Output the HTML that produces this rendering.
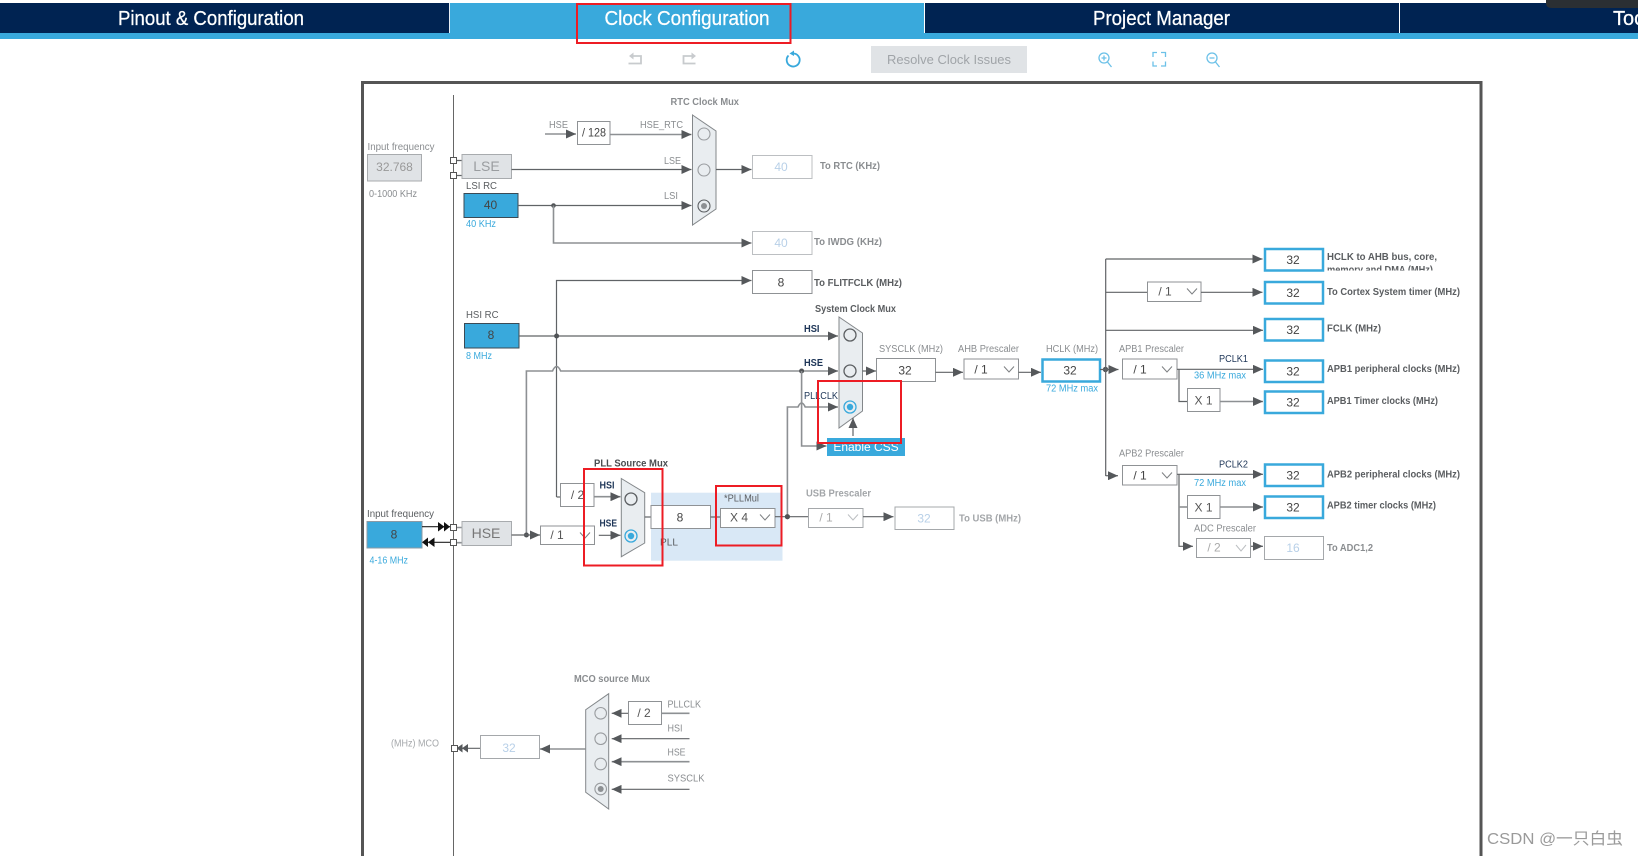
<!DOCTYPE html>
<html><head><meta charset="utf-8"><title>Clock Configuration</title>
<style>
html,body{margin:0;padding:0;background:#fff;width:1638px;height:856px;overflow:hidden}
svg{display:block}
text{font-family:"Liberation Sans","Noto Sans CJK SC",sans-serif;font-size:10px;fill:#8a8d90}
.b{font-weight:bold}
.d{fill:#5a5d60}
.n{fill:#1d3557}
.bl{fill:#39a9dc}
.v{font-size:12px;fill:#444;text-anchor:middle;transform:translateY(-1px)}
.lt{font-size:12px;fill:#b8d0e8;text-anchor:middle;transform:translateY(-1px)}
text[style*="font-size:12px"],text[style*="font-size:14px"]{transform:translateY(-1px)}
.tab{font-size:20px;fill:#fff;stroke:#fff;stroke-width:.25}
.box{fill:#fff;stroke:#8f9295;stroke-width:1}
.lb{fill:#fff;stroke:#bcbfc2;stroke-width:1}
.bb{fill:#fff;stroke:#39a9dc;stroke-width:2.5}
.gb{fill:#e0e3e6;stroke:#a8abae;stroke-width:1}
.blue{fill:#39a9dc;stroke:#3b4a55;stroke-width:1}
.l{fill:none;stroke:#606366;stroke-width:1.2;marker-end:url(#a)}
.p{fill:none;stroke:#606366;stroke-width:1.2}
.g{fill:none;stroke:#8d9093;stroke-width:1.6;marker-end:url(#a)}
.gp{fill:none;stroke:#8d9093;stroke-width:1.6}
.mux{fill:#e9edf0;stroke:#83878a;stroke-width:1}
.r{fill:none;stroke:#5c5f62;stroke-width:1.1}
.rg{fill:none;stroke:#9a9da0;stroke-width:1.1}
.red{fill:none;stroke:#ed1c24;stroke-width:2}
.ch{fill:none;stroke:#7c7f82;stroke-width:1}
.chl{fill:none;stroke:#bcbfc2;stroke-width:1}
.ic{fill:none;stroke:#6cc1e8;stroke-width:1.3}
.icg{fill:none;stroke:#c8cbce;stroke-width:1.8}
.sq{fill:#fff;stroke:#555;stroke-width:1}
</style></head><body>
<svg width="1638" height="856" viewBox="0 0 1638 856" xmlns="http://www.w3.org/2000/svg">
<defs>
<marker id="a" markerUnits="userSpaceOnUse" markerWidth="10" markerHeight="9" refX="10" refY="4.5" orient="auto"><path d="M0 0L10 4.5L0 9z" fill="#55585b"/></marker>
<clipPath id="c1"><rect x="1326" y="240" width="130" height="30.5"/></clipPath>
</defs>

<!-- header -->
<rect x="0" y="3" width="1638" height="30" fill="#002352"/>
<rect x="0" y="33" width="1638" height="6" fill="#39a9dc"/>
<rect x="450" y="3" width="474" height="30" fill="#39a9dc"/>
<rect x="449" y="3" width="1" height="30" fill="#e8eef4"/>
<rect x="924" y="3" width="1" height="30" fill="#fff"/>
<rect x="1399" y="3" width="1" height="30" fill="#fff"/>
<path d="M1546 0H1638V8H1552Q1546 8 1546 3z" fill="#2b2f33"/>
<text class="tab" x="118" y="25" textLength="186" lengthAdjust="spacingAndGlyphs">Pinout &amp; Configuration</text>
<text class="tab" x="604.5" y="25" textLength="165" lengthAdjust="spacingAndGlyphs">Clock Configuration</text>
<text class="tab" x="1093" y="25" textLength="137" lengthAdjust="spacingAndGlyphs">Project Manager</text>
<text class="tab" x="1613" y="25">Tools</text>
<rect class="red" x="577" y="4" width="213.500" height="39"/>

<!-- toolbar -->
<path class="icg" d="M632 56H641V63.500H628.500"/>
<path d="M633.500 52.500L629 56L633.500 59.500z" fill="#c8cbce"/>
<path class="icg" d="M693 56H683.500V63.500H695.500"/>
<path d="M691.500 52.500L696 56L691.500 59.500z" fill="#c8cbce"/>
<path d="M788.500 55.500A6.500 6.500 0 1 0 793 53.500" fill="none" stroke="#39a9dc" stroke-width="1.800"/>
<path d="M794 50.500l-4.500 3 4.500 2.500z" fill="#39a9dc"/>
<rect x="871" y="46" width="156" height="27" fill="#e0e3e6"/>
<text x="887" y="64" style="font-size:13px;fill:#a0a4a8" textLength="124" lengthAdjust="spacingAndGlyphs">Resolve Clock Issues</text>
<circle class="ic" cx="1104" cy="58" r="5"/><path class="ic" d="M1107.500 62l4 5M1101.500 58h5M1104 55.500v5"/>
<path class="ic" d="M1153 57v-4.500h4M1161 52.500h4.500V57M1165.500 61.500V66h-4.500M1157 66h-4v-4.500"/>
<circle class="ic" cx="1212" cy="58" r="5"/><path class="ic" d="M1215.500 62l4 5M1209.500 58h5"/>

<!-- frame -->
<path d="M362.500 857V82.500H1481V857" fill="none" stroke="#555" stroke-width="3"/>
<path d="M453.500 95V856" stroke="#666" stroke-width="1" fill="none"/>

<!-- RTC -->
<text class="b" x="670.500" y="105" textLength="68.500" lengthAdjust="spacingAndGlyphs">RTC Clock Mux</text>
<text x="549" y="128" textLength="19" lengthAdjust="spacingAndGlyphs">HSE</text>
<path class="g" d="M545 134H576"/>
<rect class="box" x="577.500" y="121.500" width="32.500" height="23"/>
<text class="v" x="594" y="137.500" textLength="24" lengthAdjust="spacingAndGlyphs">/ 128</text>
<text x="640" y="128" textLength="43" lengthAdjust="spacingAndGlyphs">HSE_RTC</text>
<path class="g" d="M610 134.500H691.500"/>
<polygon class="mux" points="692.500,115 716,131 716,209 692.500,225"/>
<circle class="rg" cx="704" cy="134" r="6"/><circle class="rg" cx="704" cy="170" r="6"/><circle class="r" cx="704" cy="206" r="6"/><circle cx="704" cy="206" r="3" fill="#8d9093"/>
<text x="367.500" y="150" textLength="67" lengthAdjust="spacingAndGlyphs">Input frequency</text>
<rect class="gb" x="367.500" y="154.500" width="54" height="26.500"/>
<text x="394.500" y="172" style="font-size:12px;fill:#999;text-anchor:middle">32.768</text>
<text x="369" y="197" textLength="48" lengthAdjust="spacingAndGlyphs">0-1000 KHz</text>
<path class="p" d="M456 160.500H462M456 175.500H462"/>
<rect class="sq" x="450.500" y="157.500" width="6" height="6"/><rect class="sq" x="450.500" y="172.500" width="6" height="6"/>
<rect class="gb" x="462" y="154.500" width="49.500" height="24"/>
<text x="486.500" y="172" style="font-size:14px;fill:#9a9da0;text-anchor:middle">LSE</text>
<path class="l" d="M511.500 169.500H691.500"/>
<text x="664" y="164" textLength="17" lengthAdjust="spacingAndGlyphs">LSE</text>
<path class="l" d="M716 169.500H751.500"/>
<rect class="lb" x="752.500" y="155.500" width="59.500" height="23"/>
<text class="lt" x="781" y="172">40</text>
<text class="b" x="820" y="169" textLength="60" lengthAdjust="spacingAndGlyphs">To RTC (KHz)</text>
<text class="d" x="466" y="189" textLength="31" lengthAdjust="spacingAndGlyphs">LSI RC</text>
<rect class="blue" x="464" y="193.500" width="54" height="24"/>
<text class="v" x="490.500" y="210">40</text>
<text class="bl" x="466" y="227" textLength="30" lengthAdjust="spacingAndGlyphs">40 KHz</text>
<path class="l" d="M518 205.500H691.500"/>
<circle cx="553.500" cy="205.500" r="2.300" fill="#505356"/>
<text x="664" y="199" textLength="14" lengthAdjust="spacingAndGlyphs">LSI</text>
<path class="g" d="M553.500 205.500V243H751.500"/>
<rect class="lb" x="752.500" y="231.500" width="59.500" height="23"/>
<text class="lt" x="781" y="248">40</text>
<text class="b" x="814" y="245" textLength="68" lengthAdjust="spacingAndGlyphs">To IWDG (KHz)</text>

<!-- FLITF + HSI -->
<path class="l" d="M556.500 497V280.500H751.500"/>
<rect class="box" x="752.500" y="270.500" width="59.500" height="23"/>
<text class="v" x="781" y="287.500">8</text>
<text class="b d" x="814" y="286" textLength="88" lengthAdjust="spacingAndGlyphs">To FLITFCLK (MHz)</text>
<text class="d" x="466" y="318" textLength="32.500" lengthAdjust="spacingAndGlyphs">HSI RC</text>
<rect class="blue" x="464.500" y="323.500" width="54.500" height="24.500"/>
<text class="v" x="491" y="340">8</text>
<text class="bl" x="466" y="359" textLength="26" lengthAdjust="spacingAndGlyphs">8 MHz</text>
<path class="l" d="M519 336H838"/>
<circle cx="556.600" cy="336" r="2.500" fill="#505356"/>
<text class="b d" x="815" y="312" textLength="81" lengthAdjust="spacingAndGlyphs">System Clock Mux</text>
<text class="b n" x="804" y="332" textLength="15.500" lengthAdjust="spacingAndGlyphs">HSI</text>
<path class="g" d="M526.400 535V371H552.500Q556.600 362 560.700 371H838"/>
<circle cx="526.400" cy="535" r="2.500" fill="#505356"/>
<circle cx="801.600" cy="371" r="2.500" fill="#505356"/>
<text class="b n" x="804" y="366" textLength="19" lengthAdjust="spacingAndGlyphs">HSE</text>
<path class="g" d="M787.400 517V407H798Q801.600 399 805.200 407H838"/>
<circle cx="787.400" cy="516.700" r="2.500" fill="#505356"/>
<path class="g" d="M801.600 371V446H826.500"/>
<text class="n" x="804" y="399" textLength="34" lengthAdjust="spacingAndGlyphs">PLLCLK</text>
<polygon class="mux" points="839,317 862.500,333 862.500,411 839,428"/>
<circle class="r" cx="850" cy="335" r="6" style="stroke-width:1.300"/><circle class="r" cx="850" cy="371" r="6" style="stroke-width:1.300"/>
<circle cx="850" cy="407" r="6" fill="none" stroke="#39a9dc" stroke-width="1.300"/><circle cx="850" cy="407" r="3.200" fill="#39a9dc"/>
<rect x="827" y="438" width="78" height="18" fill="#39a9dc"/>
<text x="866" y="452" style="font-size:12px;fill:#fff;text-anchor:middle">Enable CSS</text>
<path class="l" d="M853 436V418"/>
<path class="l" d="M862.500 371H876"/>
<rect class="box" x="876.500" y="358.500" width="59" height="23"/>
<text class="v" x="905" y="375.500">32</text>
<text x="879" y="352" textLength="64" lengthAdjust="spacingAndGlyphs">SYSCLK (MHz)</text>
<path class="l" d="M935.500 372.300H963"/>
<rect class="box" x="964" y="359" width="54.500" height="20"/>
<text class="v" x="981" y="374.500">/ 1</text>
<polyline class="ch" points="1004,366.500 1009,372 1014,366.500"/>
<text x="958" y="352" textLength="61" lengthAdjust="spacingAndGlyphs">AHB Prescaler</text>
<path class="l" d="M1018.500 372.300H1041"/>
<rect class="bb" x="1042.500" y="359.500" width="57.500" height="22"/>
<text class="v" x="1070" y="375.500">32</text>
<text x="1046" y="352" textLength="52" lengthAdjust="spacingAndGlyphs">HCLK (MHz)</text>
<text class="bl" x="1046" y="391.500" textLength="52" lengthAdjust="spacingAndGlyphs">72 MHz max</text>
<circle cx="1105.500" cy="369.500" r="2.700" fill="#505356"/>
<path class="l" d="M1100 369.500H1118.500"/>

<!-- right bus -->
<path class="p" d="M1105.700 259V476"/>
<path class="l" d="M1105.700 259H1262.500"/>
<rect class="bb" x="1265" y="249" width="58" height="21.500"/>
<text class="v" x="1293" y="265">32</text>
<text class="b d" x="1327" y="260" textLength="110" lengthAdjust="spacingAndGlyphs">HCLK to AHB bus, core,</text>
<g clip-path="url(#c1)"><text class="b d" x="1327" y="273" textLength="106" lengthAdjust="spacingAndGlyphs">memory and DMA (MHz)</text></g>
<path class="p" d="M1105.700 292.300H1147.500"/>
<rect class="box" x="1147.500" y="282" width="53.500" height="19.500"/>
<text x="1165" y="296.500" style="font-size:12px;fill:#555;text-anchor:middle">/ 1</text>
<polyline class="ch" points="1187,288.500 1192,294 1197,288.500"/>
<path class="l" d="M1201 292.300H1262.500"/>
<rect class="bb" x="1265" y="282" width="58" height="21.500"/>
<text class="v" x="1293" y="298">32</text>
<text class="b d" x="1327" y="295" textLength="133" lengthAdjust="spacingAndGlyphs">To Cortex System timer (MHz)</text>
<path class="l" d="M1105.700 330.300H1263"/>
<rect class="bb" x="1265" y="319" width="58" height="21.500"/>
<text class="v" x="1293" y="335">32</text>
<text class="b d" x="1327" y="331.500" textLength="54" lengthAdjust="spacingAndGlyphs">FCLK (MHz)</text>

<!-- APB1 -->
<text x="1119" y="352" textLength="65" lengthAdjust="spacingAndGlyphs">APB1 Prescaler</text>
<rect class="box" x="1122.500" y="359" width="54.500" height="20"/>
<text class="v" x="1140" y="374.500">/ 1</text>
<polyline class="ch" points="1162,366.500 1167,372 1172,366.500"/>
<path class="l" d="M1177 369.300H1263"/>
<text class="n" x="1219" y="362" textLength="29" lengthAdjust="spacingAndGlyphs">PCLK1</text>
<text class="bl" x="1194" y="378.500" textLength="52" lengthAdjust="spacingAndGlyphs">36 MHz max</text>
<rect class="bb" x="1265" y="360.500" width="58" height="21.500"/>
<text class="v" x="1293" y="376.500">32</text>
<text class="b d" x="1327" y="372" textLength="133" lengthAdjust="spacingAndGlyphs">APB1 peripheral clocks (MHz)</text>
<path class="p" d="M1179 369.300V401.500H1187.500"/>
<rect class="box" x="1187.500" y="388.500" width="32.500" height="23"/>
<text x="1203.500" y="405.500" style="font-size:12px;fill:#555;text-anchor:middle">X 1</text>
<path class="g" d="M1220 401.500H1263"/>
<rect class="bb" x="1265" y="391.500" width="58" height="21.500"/>
<text class="v" x="1293" y="407.500">32</text>
<text class="b d" x="1327" y="404" textLength="111" lengthAdjust="spacingAndGlyphs">APB1 Timer clocks (MHz)</text>

<!-- APB2 -->
<path class="l" d="M1105.700 475.700H1118"/>
<text x="1119" y="456.500" textLength="65" lengthAdjust="spacingAndGlyphs">APB2 Prescaler</text>
<rect class="box" x="1122.500" y="465.500" width="54.500" height="19.500"/>
<text class="v" x="1140" y="480.500">/ 1</text>
<polyline class="ch" points="1162,472.500 1167,478 1172,472.500"/>
<path class="l" d="M1177 474.300H1263"/>
<text class="n" x="1219" y="467.500" textLength="29" lengthAdjust="spacingAndGlyphs">PCLK2</text>
<text class="bl" x="1194" y="486" textLength="52" lengthAdjust="spacingAndGlyphs">72 MHz max</text>
<rect class="bb" x="1265" y="464.500" width="58" height="21.500"/>
<text class="v" x="1293" y="480.500">32</text>
<text class="b d" x="1327" y="477.500" textLength="133" lengthAdjust="spacingAndGlyphs">APB2 peripheral clocks (MHz)</text>
<path class="l" d="M1179 474.300V546.300H1193"/>
<path class="gp" d="M1179 507H1187.500"/>
<rect class="box" x="1187.500" y="495.500" width="32.500" height="23"/>
<text x="1203.500" y="512.500" style="font-size:12px;fill:#555;text-anchor:middle">X 1</text>
<path class="g" d="M1220 507H1263"/>
<rect class="bb" x="1265" y="496.500" width="58" height="21.500"/>
<text class="v" x="1293" y="512.500">32</text>
<text class="b d" x="1327" y="508.500" textLength="109" lengthAdjust="spacingAndGlyphs">APB2 timer clocks (MHz)</text>
<text x="1194" y="531.500" textLength="62" lengthAdjust="spacingAndGlyphs">ADC Prescaler</text>
<rect class="lb" x="1196.500" y="538.500" width="54" height="19" style="stroke:#9a9da0"/>
<text x="1214" y="552.500" style="font-size:12px;fill:#aaa;text-anchor:middle">/ 2</text>
<polyline class="chl" points="1236,545 1241,551 1246,545"/>
<path class="l" d="M1251 546.300H1263"/>
<rect class="lb" x="1264.500" y="536.500" width="59" height="23" style="stroke:#a5a8ab"/>
<text class="lt" x="1293" y="553">16</text>
<text class="b" x="1327" y="551" textLength="46" lengthAdjust="spacingAndGlyphs">To ADC1,2</text>

<!-- PLL / HSE row -->
<rect x="651" y="492.700" width="131.500" height="68" fill="#d9e8f6"/>
<text x="806" y="496.500" class="b" textLength="65" lengthAdjust="spacingAndGlyphs" style="fill:#a3a6a9">USB Prescaler</text>
<text x="367" y="517" class="d" textLength="67" lengthAdjust="spacingAndGlyphs">Input frequency</text>
<rect x="367" y="521.500" width="55" height="26.500" fill="#39a9dc" stroke="#8b9aa5" stroke-width="1"/>
<text class="v" x="394" y="539.500">8</text>
<text class="bl" x="369.500" y="563.500" textLength="38.500" lengthAdjust="spacingAndGlyphs">4-16 MHz</text>
<path d="M422 526.700H450M424 542.300H450" stroke="#222" stroke-width="1.200" fill="none"/>
<path d="M438 522L444.500 526.700L438 531.500zM444 522L450 526.700L444 531.500z" fill="#111"/>
<path d="M428 537.500L422 542.300L428 547zM434.500 537.500L428 542.300L434.500 547z" fill="#111"/>
<path class="gp" d="M456 527.500H462M456 542.700H462"/>
<rect class="sq" x="450.500" y="524.500" width="6" height="6"/><rect class="sq" x="450.500" y="539.500" width="6" height="6"/>
<rect class="gb" x="462" y="521.500" width="49.500" height="24"/>
<text x="486" y="539" style="font-size:14px;fill:#777;text-anchor:middle">HSE</text>
<path class="l" d="M511.500 535H540"/>
<rect class="box" x="540.500" y="526" width="54" height="18.500"/>
<text x="557" y="540" style="font-size:12px;fill:#555;text-anchor:middle">/ 1</text>
<polyline class="ch" points="580,532.500 585,538 590,532.500"/>
<path class="l" d="M598.800 535.300H620.500"/>
<path class="p" d="M556.600 497H560.500"/>
<rect class="box" x="560.500" y="483.500" width="33.500" height="23"/>
<text x="577.500" y="500" style="font-size:12px;fill:#555;text-anchor:middle">/ 2</text>
<path class="g" d="M594 496.700H620.500"/>
<text class="b n" x="594" y="466.500" textLength="74" lengthAdjust="spacingAndGlyphs" style="fill:#4a4d50">PLL Source Mux</text>
<text class="b n" x="599.500" y="488.500" textLength="15" lengthAdjust="spacingAndGlyphs">HSI</text>
<text class="b n" x="599.500" y="526.500" textLength="17.500" lengthAdjust="spacingAndGlyphs">HSE</text>
<polygon class="mux" points="621.300,478.500 644.700,492.700 644.700,543 621.300,556.700"/>
<circle class="r" cx="631" cy="499" r="6" style="stroke-width:1.300"/>
<circle cx="631" cy="536" r="6" fill="none" stroke="#39a9dc" stroke-width="1.300"/><circle cx="631" cy="536" r="3.200" fill="#39a9dc"/>
<path class="p" d="M644.700 517H651"/>
<rect class="box" x="651" y="505.500" width="59.500" height="23"/>
<text class="v" x="680" y="522.500">8</text>
<text x="660" y="545.500" textLength="18" lengthAdjust="spacingAndGlyphs" class="d">PLL</text>
<path class="p" d="M710.500 517H720.500"/>
<text x="724" y="501.500" textLength="35" lengthAdjust="spacingAndGlyphs" class="d">*PLLMul</text>
<rect class="box" x="720.500" y="508.500" width="54.500" height="19"/>
<text x="739" y="522.500" style="font-size:12px;fill:#555;text-anchor:middle">X 4</text>
<polyline class="ch" points="760,514.500 765,520 770,514.500"/>
<path class="p" d="M775 516.700H808.500"/>
<circle cx="787.400" cy="516.700" r="2.500" fill="#505356"/>
<rect class="lb" x="808.500" y="508.500" width="54.500" height="19" style="stroke:#a5a8ab"/>
<text x="826" y="522.500" style="font-size:12px;fill:#aaa;text-anchor:middle">/ 1</text>
<polyline class="chl" points="848,514.500 853,520 858,514.500"/>
<path class="l" d="M863 516.700H893.500"/>
<rect class="lb" x="895" y="507" width="59" height="22.500" style="stroke:#a5a8ab"/>
<text class="lt" x="924" y="523.500">32</text>
<text class="b" x="959" y="521.500" textLength="62" lengthAdjust="spacingAndGlyphs" style="fill:#a3a6a9">To USB (MHz)</text>

<!-- MCO -->
<text class="b" x="574" y="682" textLength="76" lengthAdjust="spacingAndGlyphs">MCO source Mux</text>
<polygon class="mux" points="608.700,693.700 585.700,709.700 585.700,792.300 608.700,809"/>
<circle class="rg" cx="600.700" cy="713.300" r="5.800"/><circle class="rg" cx="600.700" cy="738.700" r="5.800"/><circle class="rg" cx="600.700" cy="764" r="5.800"/><circle class="rg" cx="600.700" cy="789" r="5.800"/><circle cx="600.700" cy="789" r="3" fill="#8d9093"/>
<path class="l" d="M628 713.300H611.700"/>
<rect class="box" x="628.500" y="701.500" width="33" height="23"/>
<text x="644" y="718" style="font-size:12px;fill:#555;text-anchor:middle">/ 2</text>
<path class="gp" d="M661.500 713.300H689.500"/>
<text x="667.500" y="707.500" textLength="33.500" lengthAdjust="spacingAndGlyphs">PLLCLK</text>
<text x="667.500" y="731.500" textLength="15" lengthAdjust="spacingAndGlyphs">HSI</text>
<path class="l" d="M689.500 738.700H611.700"/>
<text x="667.500" y="755.500" textLength="18" lengthAdjust="spacingAndGlyphs">HSE</text>
<path class="g" d="M689.500 761.700H611.700"/>
<text x="667.500" y="781.500" textLength="37" lengthAdjust="spacingAndGlyphs">SYSCLK</text>
<path class="l" d="M689.500 789.300H611.700"/>
<path class="g" d="M585.700 749H540"/>
<rect class="lb" x="480.500" y="735.500" width="59" height="23" style="stroke:#a5a8ab"/>
<text class="lt" x="509" y="753">32</text>
<path class="p" d="M480 748.300H457"/>
<path d="M462.500 744L456.500 748.300L462.500 752.500zM468 744L462 748.300L468 752.500z" fill="#55585b"/>
<rect class="sq" x="451.500" y="745.500" width="6" height="6"/>
<text x="391" y="746.500" textLength="48" lengthAdjust="spacingAndGlyphs" style="fill:#a5a8ab">(MHz) MCO</text>

<!-- red highlight boxes -->
<rect class="red" x="818" y="381" width="83" height="62"/>
<rect class="red" x="584" y="469" width="78.500" height="96.500"/>
<rect class="red" x="716" y="486" width="65.500" height="59.500"/>

<!-- watermark -->
<text x="1487" y="844" style="font-size:16px;fill:#9a9a9a" textLength="136" lengthAdjust="spacingAndGlyphs">CSDN @一只白虫</text>
</svg>
</body></html>
